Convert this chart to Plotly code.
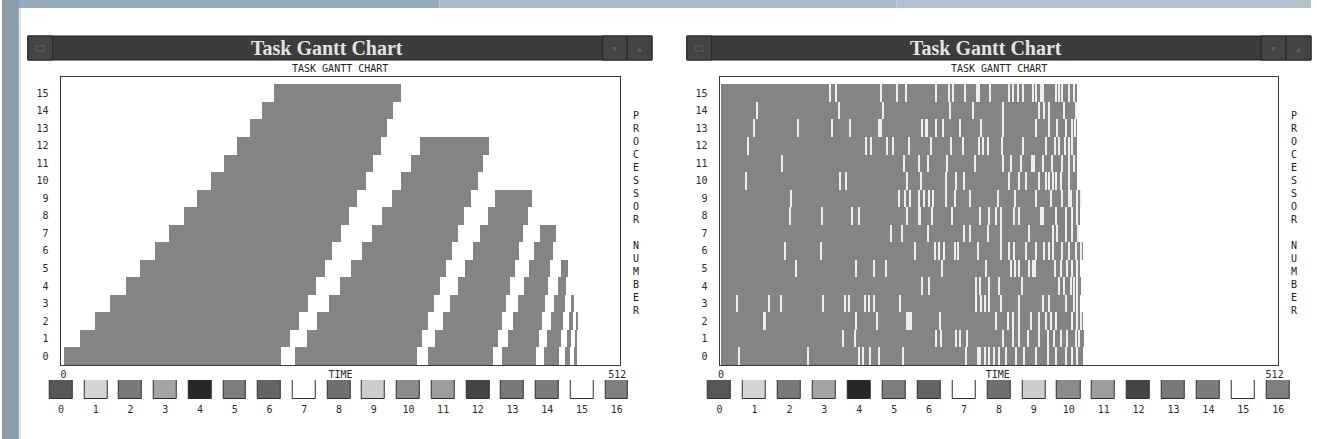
import plotly.graph_objects as go

W, H = 1317, 439

# ---------------- data ----------------
processors = list(range(16))
time_ticks = [0, 256, 512]
time_tick_text = ["0", "TIME", "512"]

# Left chart: task blocks arranged in diagonal waves (start / end time per processor)
wave1_start = [0, 14.4, 28.8, 42.9, 57.3, 70.2, 84.3, 97.4, 110.6, 122.9, 135.7, 148.0, 160.2, 171.9, 183.2, 194.6]
wave1_end = [200.4, 209.0, 217.2, 225.5, 233.0, 241.0, 248.0, 256.4, 264.0, 271.0, 279.0, 286.0, 293.0, 299.0, 304.5, 311.9]
wave2_start = [213.2, 224.3, 234.0, 244.8, 255.5, 265.6, 275.4, 284.6, 293.8, 303.6, 311.6, 320.8, 329.0]
wave2_end = [326.3, 331.5, 337.0, 342.5, 347.5, 353.0, 358.5, 364.3, 370.4, 376.5, 382.7, 387.9, 392.8]
wave3_start = [336.4, 343.4, 350.3, 357.3, 364.2, 371.2, 378.2, 385.1, 392.1, 399.0]
wave3_end = [397.0, 401.0, 404.9, 408.9, 412.8, 416.8, 420.8, 424.7, 428.7, 432.6]
wave4_start = [405.3, 410.3, 415.2, 420.2, 425.1, 430.1, 435.0, 440.0]
wave4_end = [436.6, 439.3, 441.9, 444.6, 447.3, 449.9, 452.6, 455.3]
wave5_start = [443.5, 446.8, 450.1, 453.3, 456.6, 459.9]
wave5_end = [457.7, 459.4, 461.1, 462.9, 464.6, 466.3]
wave6_start = [463.0, 464.9, 466.9, 468.8]
wave6_end = [467.8, 469.1, 470.5, 471.8]
wave7_start = [472.4, 473.0, 473.6]
wave7_end = [474.0, 474.8, 475.5]

# Right chart: busy until end time, with short idle slivers
right_end = [334, 335, 334, 332, 333, 332, 334, 331, 332, 333, 329, 329, 329, 329, 329, 329]
gaps_p00 = [16.2, 80, 126.5, 130.5, 136.6, 144.9, 167.3, 226.1, 236.8, 238.4, 243, 247.5, 252.1, 256.7, 262.9, 272, 279.7, 290.4, 301.2, 308.8, 318, 324.1, 328.7]
gaps_p01 = [112.1, 123.5, 197.9, 203.1, 216.2, 220.6, 226.7, 260.4, 269, 275.1, 282.8, 293.5, 301.2, 307.3, 313.4, 319.5, 327.2, 330.3]
gaps_p02 = [38.6, 39.8, 124.4, 143.4, 171.6, 173.4, 174.6, 201.6, 253.7, 264.4, 269, 275.1, 285.8, 293.5, 299.6, 304.2, 308.8, 324.1, 328.7, 331.8]
gaps_p03 = [14.1, 43.8, 55.1, 93.8, 114.3, 117.3, 132.7, 135.7, 140.9, 164.8, 234.7, 239.9, 243, 247.5, 258.3, 275.1, 296.6, 302.7, 318, 325.7, 328.7]
gaps_p04 = [184.7, 191.8, 234.7, 238.4, 247.5, 256.7, 277.6, 311.9, 316.5, 322.5, 325.7, 328.7]
gaps_p05 = [68.3, 124.4, 140.9, 152, 204, 243.9, 267.5, 271.4, 275.1, 284.3, 287.4, 289.8, 308.2, 313.4, 319.5, 324.1, 328.7]
gaps_p06 = [58.5, 91.9, 178.6, 197, 201, 205.3, 215.4, 218.4, 236.8, 258.3, 265.3, 270.5, 281.3, 290.4, 298.1, 302.1, 305.8, 315, 321, 327.2, 331.8]
gaps_p07 = [156.6, 166.4, 190.9, 223.6, 229.2, 246, 258.3, 284.3, 305.8, 310.4, 318, 324.1, 329.6]
gaps_p08 = [63.1, 92.8, 120.4, 126.5, 171, 182.6, 183.2, 193.9, 213.2, 238.4, 247.5, 253.7, 258.3, 270.5, 275.1, 295, 296.6, 308.8, 318, 324.1, 328.7]
gaps_p09 = [64.3, 164.2, 169.4, 174, 182.6, 186.9, 191.8, 195.5, 207.1, 215.4, 229.2, 255.3, 271.4, 290.4, 304.2, 315, 321, 322.5, 328.7, 331.8]
gaps_p10 = [22.4, 109.7, 115.2, 171.6, 184.1, 207.1, 216.9, 224, 265.3, 275.1, 281.3, 293.5, 299.6, 302.7, 305.8, 308.8, 313.4, 321]
gaps_p11 = [56, 168.5, 182.6, 190.9, 208.3, 234.4, 259.8, 267.5, 276.7, 286.8, 288.9, 297.2, 305.1, 315, 321, 325.7]
gaps_p12 = [24.5, 133.6, 137.9, 152.6, 158.1, 173.4, 193.3, 212.3, 223, 237.7, 241.4, 246, 259.2, 278.8, 299.6, 308.2, 311.9, 317.4, 321, 324.1]
gaps_p13 = [30, 70.8, 102, 118.3, 145.8, 146.8, 184.7, 188.7, 190, 197.9, 204.7, 220, 239.9, 260.4, 290.4, 302.7, 310.4, 318, 324.1, 326.6]
gaps_p14 = [32.5, 108.8, 148.9, 210.8, 232.2, 260.4, 293.5, 298.1, 302.7, 316.5, 327.2]
gaps_p15 = [100.5, 106, 147.4, 162.4, 170, 197.9, 210.2, 213.8, 224.6, 235.9, 237.7, 248.2, 265.9, 269, 273.6, 278.2, 287.4, 290.4, 295, 296.6, 308.8, 311.9, 315, 321, 325.7]

# Colour key
legend_values = list(range(17))
legend_labels = [str(v) for v in legend_values]
legend_colors = ["#575757", "#d4d4d4", "#797979", "#a4a4a4", "#272727", "#7d7d7d", "#646464", "#ffffff",
                 "#707070", "#cdcdcd", "#8b8b8b", "#9d9d9d", "#454545", "#787878", "#7c7c7c", "#ffffff", "#808080"]

# ---------------- build ----------------
BAR_GRAY = "#848484"
MONO = "DejaVu Sans Mono"


def px(x):
    return x / W


def py(y):
    return 1 - y / H


waves = [(wave1_start, wave1_end), (wave2_start, wave2_end), (wave3_start, wave3_end),
         (wave4_start, wave4_end), (wave5_start, wave5_end), (wave6_start, wave6_end),
         (wave7_start, wave7_end)]
left_y, left_base, left_len = [], [], []
for ws, we in waves:
    for p, (s, e) in enumerate(zip(ws, we)):
        left_y.append(processors[p])
        left_base.append(s)
        left_len.append(e - s)

all_gaps = [gaps_p00, gaps_p01, gaps_p02, gaps_p03, gaps_p04, gaps_p05, gaps_p06, gaps_p07,
            gaps_p08, gaps_p09, gaps_p10, gaps_p11, gaps_p12, gaps_p13, gaps_p14, gaps_p15]
gap_y, gap_base = [], []
for p, g in zip(processors, all_gaps):
    for t in g:
        gap_y.append(p)
        gap_base.append(t)
GAP_W = 1.3

fig = go.Figure()
fig.add_trace(go.Bar(orientation="h", y=left_y, x=left_len, base=left_base, width=1,
                     marker=dict(color=BAR_GRAY, line=dict(width=0)), hoverinfo="skip",
                     xaxis="x", yaxis="y"))
fig.add_trace(go.Bar(orientation="h", y=processors, x=right_end, base=[0] * 16, width=1,
                     marker=dict(color=BAR_GRAY, line=dict(width=0)), hoverinfo="skip",
                     xaxis="x2", yaxis="y2"))
fig.add_trace(go.Bar(orientation="h", y=gap_y, x=[GAP_W] * len(gap_y), base=gap_base, width=1,
                     marker=dict(color="#eeeeee", line=dict(width=0)), hoverinfo="skip",
                     xaxis="x2", yaxis="y2"))
for xa, ya in (("x3", "y3"), ("x4", "y4")):
    fig.add_trace(go.Bar(x=legend_values, y=[1] * 17, base=[0] * 17, width=0.66,
                         marker=dict(color=legend_colors, line=dict(color="#2e2e2e", width=1)),
                         hoverinfo="skip", xaxis=xa, yaxis=ya))

tickfont = dict(family=MONO, size=10, color="#2a2a2a")
gantt_y_dom = [py(365), py(77)]
frame = dict(showgrid=False, zeroline=False, showline=True, mirror=True,
             linecolor="#3a3a3a", linewidth=1, fixedrange=True)

fig.update_layout(
    width=W, height=H, margin=dict(l=0, r=0, t=0, b=0),
    paper_bgcolor="white", plot_bgcolor="white",
    barmode="overlay", bargap=0, showlegend=False,
    xaxis=dict(domain=[px(59), px(622)], range=[-2.76, 514.76], tickvals=time_ticks,
               ticktext=time_tick_text, tickfont=tickfont, ticks="", ticklabelstandoff=0,
               anchor="y", **frame),
    yaxis=dict(domain=gantt_y_dom, range=[-0.5, 15.92], tickvals=processors,
               ticktext=[str(p) for p in processors], tickfont=tickfont, ticks="",
               ticklabelstandoff=9, anchor="x", **frame),
    xaxis2=dict(domain=[px(722), px(1284)], range=[-1.2, 515.3], tickvals=time_ticks,
                ticktext=time_tick_text, tickfont=tickfont, ticks="", ticklabelstandoff=0,
                anchor="y2", **frame),
    yaxis2=dict(domain=gantt_y_dom, range=[-0.5, 15.92], tickvals=processors,
                ticktext=[str(p) for p in processors], tickfont=tickfont, ticks="",
                ticklabelstandoff=9, anchor="x2", **frame),
    xaxis3=dict(domain=[px(40), px(640)], range=[-0.558, 16.615], tickvals=legend_values,
                ticktext=legend_labels, tickfont=tickfont, ticks="", ticklabelstandoff=3,
                showgrid=False, zeroline=False, showline=False, anchor="y3", fixedrange=True),
    yaxis3=dict(domain=[py(399), py(380)], range=[0, 1], visible=False, anchor="x3", fixedrange=True),
    xaxis4=dict(domain=[px(700), px(1306)], range=[-0.626, 16.626], tickvals=legend_values,
                ticktext=legend_labels, tickfont=tickfont, ticks="", ticklabelstandoff=3,
                showgrid=False, zeroline=False, showline=False, anchor="y4", fixedrange=True),
    yaxis4=dict(domain=[py(399), py(380)], range=[0, 1], visible=False, anchor="x4", fixedrange=True),
)

shapes = []


def rect(x0, y0, x1, y1, fill, line=None, lw=0):
    shapes.append(dict(type="rect", xref="paper", yref="paper", x0=px(x0), x1=px(x1),
                       y0=py(y1), y1=py(y0), fillcolor=fill,
                       line=dict(color=line or fill, width=lw), layer="below"))


# desktop background pieces
rect(0, 0, 440, 8, "#98abb8")
rect(440, 0, 900, 8, "#a8bac6")
rect(900, 0, 1317, 8, "#b2c3ce")
rect(0, 0, 17, 439, "#8d9eab")
rect(17, 8, 19, 439, "#e9e2d8")

# window title bars
for x0, x1, lb, rb in ((26, 654, (26, 51), [(604, 629), (629, 654)]),
                       (689, 1317, (689, 714), [(1267, 1292), (1292, 1317)])):
    rect(x0, 36, x1, 60, "#3c3c3c", "#1f1f1f", 1)
    rect(lb[0], 36, lb[1], 60, "#444444", "#262626", 1)
    rect(lb[0] + 8, 46, lb[1] - 8, 51, "#444444", "#5e5e5e", 1)
    for b0, b1 in rb:
        rect(b0, 36, b1, 60, "#444444", "#262626", 1)

fig.update_layout(shapes=shapes)

ann = []
vertical = "<br>".join(list("PROCESSOR") + ["&nbsp;"] + list("NUMBER"))
for title_x, sub_x, side_x, btns in ((327, 340.5, 638, (616.5, 641.5)),
                                     (990.5, 1003, 1300, (1279.5, 1304.5))):
    ann.append(dict(x=px(title_x), y=py(48), xref="paper", yref="paper", showarrow=False,
                    text="<b>Task Gantt Chart</b>", xanchor="center", yanchor="middle",
                    font=dict(family="Liberation Serif", size=20, color="#e4e4e4")))
    ann.append(dict(x=px(sub_x), y=py(68), xref="paper", yref="paper", showarrow=False,
                    text="TASK GANTT CHART", xanchor="center", yanchor="middle",
                    font=dict(family=MONO, size=10, color="#222222")))
    ann.append(dict(x=px(side_x), y=py(213), xref="paper", yref="paper", showarrow=False,
                    text=vertical, xanchor="center", yanchor="middle",
                    font=dict(family=MONO, size=10, color="#222222")))
    for bx, glyph in zip(btns, ("▾", "▴")):
        ann.append(dict(x=px(bx), y=py(48), xref="paper", yref="paper", showarrow=False,
                        text=glyph, xanchor="center", yanchor="middle",
                        font=dict(family="DejaVu Sans", size=10, color="#5e5e5e")))
fig.update_layout(annotations=ann)

fig.write_html("out.html", config={"displayModeBar": False},
               post_script="document.body.style.margin='0px';document.body.style.overflow='hidden';")
